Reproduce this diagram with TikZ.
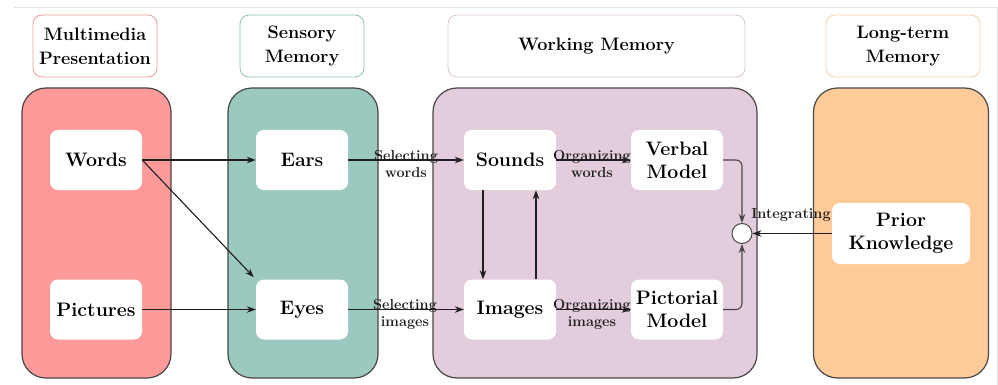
\documentclass[tikz,border=0pt]{standalone}
\usepackage{fontspec}
\usetikzlibrary{arrows.meta}
\definecolor{cred}{HTML}{FF9A9A}
\definecolor{cteal}{HTML}{9BC8BF}
\definecolor{cpurp}{HTML}{E3CDDC}
\definecolor{corng}{HTML}{FFCC99}
\definecolor{hred}{HTML}{E79B9B}
\definecolor{hteal}{HTML}{8FC2B7}
\definecolor{hpurp}{HTML}{DCC4D4}
\definecolor{horng}{HTML}{F6D2A8}
\definecolor{colborder}{HTML}{4A4545}
\definecolor{arrcol}{HTML}{1E1E1E}
\newcommand\mybxf{\fontsize{19.5}{23}\selectfont\bfseries}
\newcommand\myhdf{\fontsize{18}{24}\selectfont\bfseries}
\newcommand\mylbf{\fontsize{14.5}{17}\selectfont\bfseries}
\begin{document}
\begin{tikzpicture}[x=1pt,y=-1pt,
  colbox/.style={draw=colborder, line width=1.2pt, rounded corners=24pt, minimum height=290pt, inner sep=0pt},
  hdrbox/.style={fill=white, line width=0.8pt, rounded corners=9pt, minimum height=62pt, align=center, font=\myhdf, inner sep=0pt},
  inbox/.style={fill=white, rounded corners=8pt, minimum width=92pt, minimum height=60pt, align=center, font=\mybxf, inner sep=0pt},
  lbl/.style={font=\mylbf, align=center, inner sep=0pt, text=arrcol},
  arr/.style={draw=arrcol, line width=1.1pt, -{Stealth[length=9pt,width=6.5pt]}},
]
\useasboundingbox (0,0) rectangle (998,385);
\draw[gray!22, line width=0.8pt] (14,7) -- (997,7) -- (997,385);

% headers
\node[hdrbox, draw=hred, minimum width=124pt] (hA) at (95,46) {Multimedia\\Presentation};
\node[hdrbox, draw=hteal, minimum width=124pt] (hB) at (302,46) {Sensory\\Memory};
\node[hdrbox, draw=hpurp, minimum width=297pt] (hC) at (596.5,46) {Working Memory};
\node[hdrbox, draw=horng, minimum width=154pt] (hD) at (903,46) {Long-term\\Memory};

% columns
\node[colbox, fill=cred, minimum width=149pt] (cA) at (96.5,233) {};
\node[colbox, fill=cteal, minimum width=150pt] (cB) at (303,233) {};
\node[colbox, fill=cpurp, minimum width=324pt] (cC) at (595,233) {};
\node[colbox, fill=corng, minimum width=175pt] (cD) at (901,233) {};

% inner boxes
\node[inbox] (words) at (96,160) {Words};
\node[inbox] (pics) at (96,309.5) {Pictures};
\node[inbox] (ears) at (302,160) {Ears};
\node[inbox] (eyes) at (302,309.5) {Eyes};
\node[inbox] (sounds) at (510,160) {Sounds};
\node[inbox] (images) at (510,309.5) {Images};
\node[inbox] (verbal) at (677,160) {Verbal\\Model};
\node[inbox] (pictorial) at (677,309.5) {Pictorial\\Model};
\node[inbox, minimum width=138pt, minimum height=61pt] (prior) at (901,233.5) {Prior\\Knowledge};
\node[circle, draw=colborder, line width=1pt, fill=white, minimum size=20pt, inner sep=0pt] (int) at (742,233.5) {};

% arrows
\draw[arr] (words.east) -- (ears.west);
\draw[arr, shorten >=3pt] (words.east) -- (eyes.north west);
\draw[arr] (pics.east) -- (eyes.west);
\draw[arr] (ears.east) -- (sounds.west);
\draw[arr] (eyes.east) -- (images.west);
\draw[arr] (sounds.east) -- (verbal.west);
\draw[arr] (images.east) -- (pictorial.west);
\draw[arr] ([xshift=-27pt]sounds.south) -- ([xshift=-27pt]images.north);
\draw[arr] ([xshift=26pt]images.north) -- ([xshift=26pt]sounds.south);
\draw[arr, draw=colborder, rounded corners=6pt] (verbal.east) -| (int.north);
\draw[arr, draw=colborder, rounded corners=6pt] (pictorial.east) -| (int.south);
\draw[arr] (prior.west) -- (int.east);

% labels
\node[lbl] (l1) at (406,164) {Selecting\\words};
\node[lbl] (l2) at (405,314) {Selecting\\images};
\node[lbl] (l3) at (592,164) {Organizing\\words};
\node[lbl] (l4) at (592,314) {Organizing\\images};
\node[lbl] (l5) at (791,215) {Integrating};
\end{tikzpicture}
\end{document}
